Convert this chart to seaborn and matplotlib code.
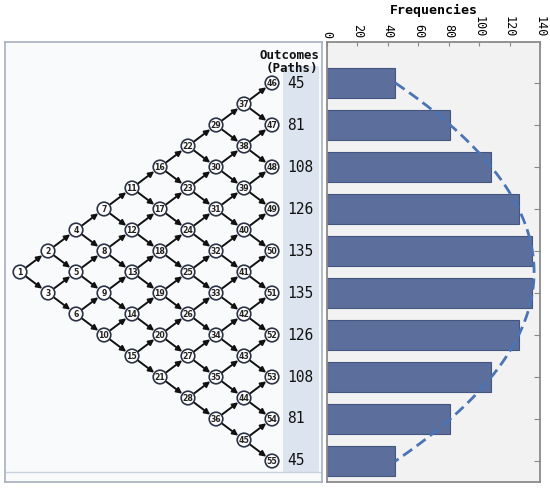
import numpy as np
import pandas as pd
import matplotlib
matplotlib.use("Agg")
import matplotlib.pyplot as plt
from matplotlib.patches import Circle, Rectangle
import seaborn as sns

# ---- data ----
outcomes = ["46", "47", "48", "49", "50", "51", "52", "53", "54", "55"]
paths = [45, 81, 108, 126, 135, 135, 126, 108, 81, 45]
frequencies = [45, 81, 108, 126, 135, 135, 126, 108, 81, 45]
freq_ticks = [0, 20, 40, 60, 80, 100, 120, 140]
n_cols = 10  # lattice columns (1 node, 2 nodes, ..., 10 nodes)

MONO = "DejaVu Sans Mono"
fig = plt.figure(figsize=(5.5, 4.92), dpi=100)
W, H = 550, 492

# ---------------- left panel: lattice ----------------
axL = fig.add_axes([5 / W, (H - 482) / H, 317 / W, 440 / H])
axL.set_xlim(5, 322)
axL.set_ylim(482, 42)
axL.set_facecolor("#f8fafc")
axL.set_xticks([])
axL.set_yticks([])
for s in axL.spines.values():
    s.set_color("#a7b0bf")
    s.set_linewidth(1.2)

axL.add_patch(Rectangle((283, 66), 36, 406, facecolor="#dce4ef", edgecolor="none", zorder=0))
axL.plot([6, 321], [472, 472], color="#c9d1dc", lw=1, zorder=0)

x0, dx = 20, 28.0
yc, dy = 272, 42.0

def pos(c, j):
    return x0 + c * dx, yc + (j - c / 2) * dy

node_id = {}
k = 1
for c in range(n_cols):
    for j in range(c + 1):
        node_id[(c, j)] = k
        k += 1

# arrows
for c in range(n_cols - 1):
    for j in range(c + 1):
        for jj in (j, j + 1):
            axL.annotate("", xy=pos(c + 1, jj), xytext=pos(c, j),
                         arrowprops=dict(arrowstyle="-|>", color="#111111", lw=1.4,
                                         shrinkA=5.5, shrinkB=5.2, mutation_scale=8),
                         zorder=2)

# nodes
for (c, j), nid in node_id.items():
    x, y = pos(c, j)
    axL.add_patch(Circle((x, y), 6.8, facecolor="white", edgecolor="#2b3345", lw=1.2, zorder=3))
    axL.text(x, y + 0.3, str(nid), ha="center", va="center", fontsize=5.6,
             fontweight="bold", color="#222222", zorder=4)

axL.text(320, 55, "Outcomes", ha="right", va="center", fontsize=9,
         fontweight="bold", family=MONO, color="#111111")
axL.text(318, 68, "(Paths)", ha="right", va="center", fontsize=9,
         fontweight="bold", family=MONO, color="#111111")

for c_j, p in zip(range(n_cols), paths):
    _, y = pos(n_cols - 1, c_j)
    axL.text(287, y, str(p), ha="left", va="center", fontsize=10.5,
             family=MONO, color="#111111")

# ---------------- right panel: bars ----------------
axR = fig.add_axes([327 / W, (H - 482) / H, 213 / W, 440 / H])
df = pd.DataFrame({"outcome": outcomes, "freq": frequencies})
sns.barplot(data=df, x="freq", y="outcome", orient="h", color="#5b6e9c",
            saturation=1, width=0.72, edgecolor="#44557f", linewidth=0.8, ax=axR)
axR.set_facecolor("#f2f2f2")
axR.set_xlim(0, 140)
axR.set_ylim(9.5, -0.976)

ypos = np.arange(len(frequencies))
coef = np.polyfit(ypos, frequencies, 2)
yy = np.linspace(0, len(frequencies) - 1, 200)
axR.plot(np.polyval(coef, yy), yy, color="#4a74b4", lw=2, dashes=(4, 2), zorder=3)

axR.xaxis.tick_top()
axR.xaxis.set_label_position("top")
axR.set_xticks(freq_ticks)
axR.set_xticklabels([str(t) for t in freq_ticks], rotation=-90, family=MONO, fontsize=8.5)
axR.tick_params(axis="x", direction="in", length=3, color="#888888", pad=3)
axR.set_xlabel("Frequencies", family=MONO, fontweight="bold", fontsize=9.5, labelpad=2)

axR.yaxis.tick_right()
axR.set_ylabel("")
axR.set_yticks(ypos)
axR.set_yticklabels([])
axR.tick_params(axis="y", direction="in", length=4, color="#888888")
for s in axR.spines.values():
    s.set_color("#8a8a8a")
    s.set_linewidth(1.3)

fig.savefig("out.png", dpi=100)
